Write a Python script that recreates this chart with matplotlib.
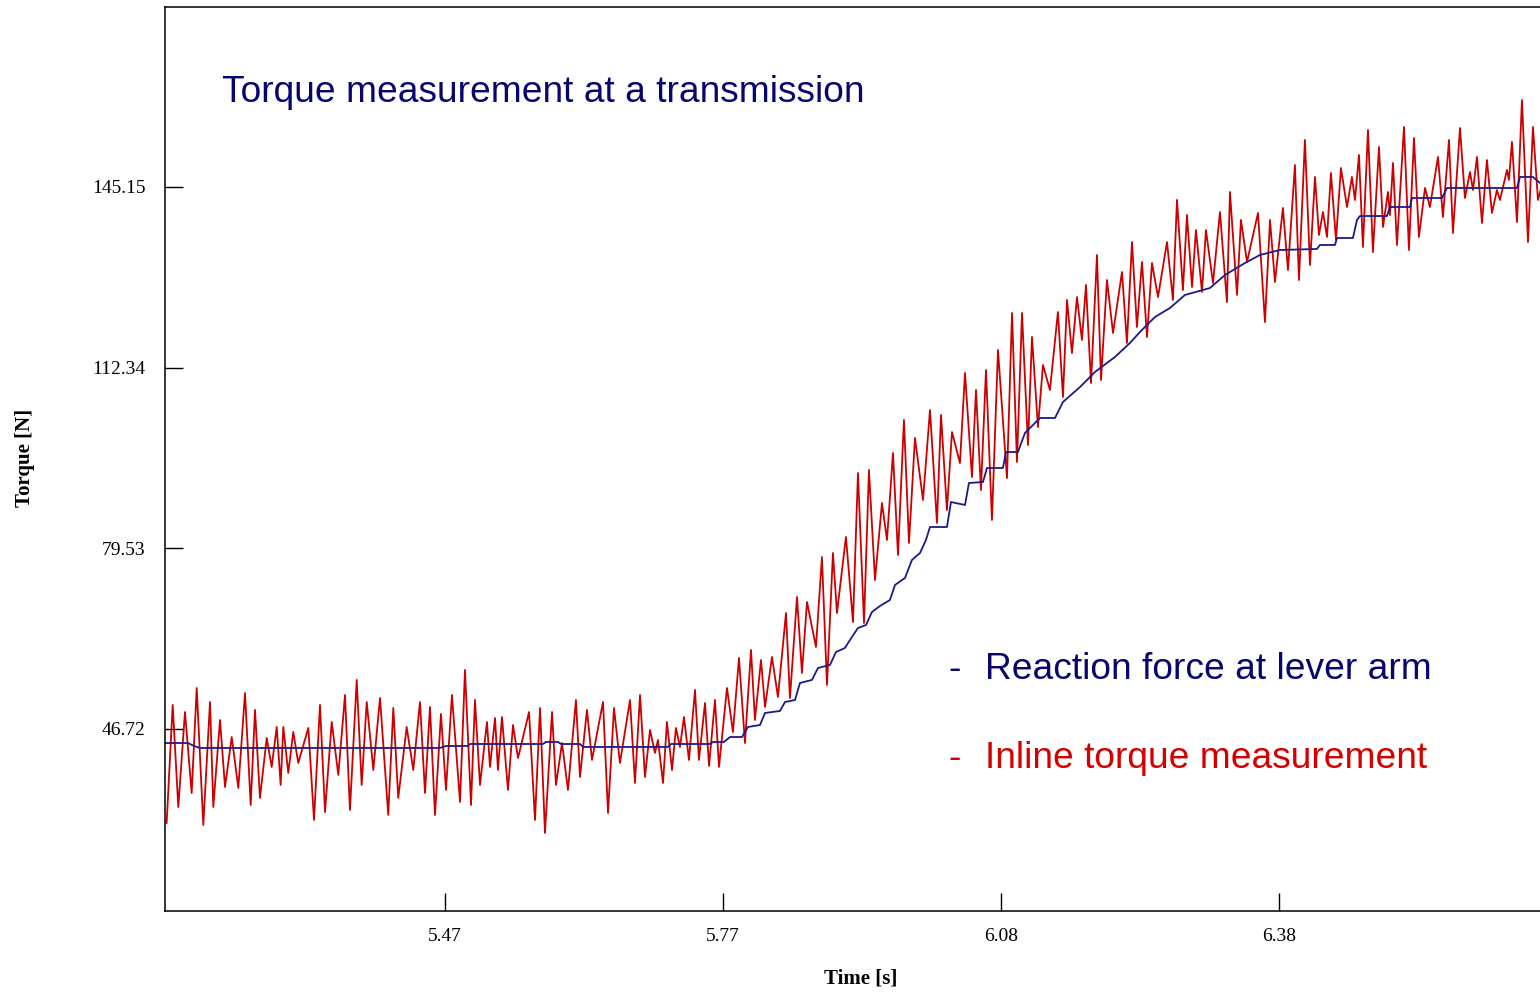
import matplotlib
matplotlib.use("Agg")
import matplotlib.pyplot as plt

red_time = [
    5.1663, 5.1729, 5.1790, 5.1863, 5.1936, 5.1991, 5.2063, 5.2136, 5.2172, 5.2245,
    5.2300, 5.2373, 5.2445, 5.2518, 5.2580, 5.2627, 5.2681, 5.2755, 5.2809, 5.2864,
    5.2907, 5.2936, 5.2990, 5.3045, 5.3099, 5.3209, 5.3271, 5.3336, 5.3391, 5.3464,
    5.3536, 5.3609, 5.3663, 5.3737, 5.3791, 5.3846, 5.3918, 5.3991, 5.4081, 5.4136,
    5.4190, 5.4282, 5.4354, 5.4427, 5.4482, 5.4536, 5.4591, 5.4656, 5.4711, 5.4776,
    5.4864, 5.4918, 5.4984, 5.5027, 5.5082, 5.5158, 5.5191, 5.5246, 5.5278, 5.5322,
    5.5387, 5.5442, 5.5497, 5.5617, 5.5682, 5.5737, 5.5791, 5.5868, 5.5911, 5.5977,
    5.6042, 5.6129, 5.6173, 5.6249, 5.6304, 5.6424, 5.6479, 5.6544, 5.6609, 5.6719,
    5.6773, 5.6828, 5.6882, 5.6937, 5.6991, 5.7024, 5.7079, 5.7122, 5.7177, 5.7220,
    5.7264, 5.7308, 5.7362, 5.7428, 5.7471, 5.7537, 5.7581, 5.7646, 5.7690, 5.7777,
    5.7842, 5.7908, 5.7973, 5.8039, 5.8082, 5.8148, 5.8192, 5.8268, 5.8333, 5.8421,
    5.8464, 5.8541, 5.8595, 5.8650, 5.8748, 5.8813, 5.8868, 5.8933, 5.8977, 5.9075,
    5.9152, 5.9206, 5.9272, 5.9326, 5.9392, 5.9468, 5.9523, 5.9588, 5.9643, 5.9708,
    5.9763, 5.9828, 5.9916, 5.9992, 6.0068, 6.0112, 6.0177, 6.0232, 6.0319, 6.0374,
    6.0450, 6.0494, 6.0548, 6.0603, 6.0668, 6.0734, 6.0832, 6.0887, 6.0941, 6.0996,
    6.1061, 6.1105, 6.1170, 6.1225, 6.1301, 6.1388, 6.1443, 6.1487, 6.1541, 6.1596,
    6.1650, 6.1694, 6.1749, 6.1814, 6.1858, 6.1923, 6.1989, 6.2087, 6.2141, 6.2196,
    6.2250, 6.2305, 6.2360, 6.2414, 6.2480, 6.2578, 6.2643, 6.2687, 6.2752, 6.2796,
    6.2851, 6.2894, 6.2960, 6.3003, 6.3080, 6.3156, 6.3232, 6.3265, 6.3342, 6.3385,
    6.3451, 6.3571, 6.3647, 6.3702, 6.3756, 6.3843, 6.3898, 6.3974, 6.4018, 6.4083,
    6.4138, 6.4193, 6.4236, 6.4280, 6.4324, 6.4367, 6.4422, 6.4476, 6.4542, 6.4596,
    6.4629, 6.4673, 6.4716, 6.4771, 6.4825, 6.4891, 6.4935, 6.4989, 6.5011, 6.5044,
    6.5087, 6.5164, 6.5218, 6.5273, 6.5327, 6.5393, 6.5447, 6.5535, 6.5589, 6.5655,
    6.5698, 6.5775, 6.5829, 6.5884, 6.5917, 6.5960, 6.6015, 6.6069, 6.6124, 6.6178,
    6.6211, 6.6288, 6.6309, 6.6342, 6.6397, 6.6451, 6.6517, 6.6571, 6.6626, 6.6669,
]
red_torque = [
    29.65, 51.08, 32.55, 49.80, 35.09, 54.16, 29.28, 51.62, 32.55, 48.35,
    36.18, 45.26, 36.00, 53.25, 32.91, 50.17, 34.19, 45.08, 39.82, 47.08,
    36.55, 47.08, 38.73, 46.17, 40.54, 46.90, 30.19, 51.08, 31.64, 47.99,
    38.36, 52.89, 32.01, 55.62, 36.55, 51.62, 39.27, 52.35, 31.10, 50.53,
    34.19, 47.08, 39.27, 51.62, 35.09, 50.71, 31.10, 49.44, 35.64, 52.89,
    33.46, 57.43, 32.91, 51.98, 36.55, 47.99, 39.82, 48.71, 39.27, 48.90,
    35.64, 47.44, 41.45, 49.80, 30.19, 50.53, 27.83, 49.80, 36.55, 44.17,
    35.64, 51.98, 38.00, 50.17, 41.09, 51.62, 31.46, 50.53, 40.54, 51.98,
    36.91, 52.89, 38.00, 46.54, 42.36, 44.72, 36.91, 47.99, 39.27, 46.90,
    43.45, 48.90, 41.09, 53.80, 41.09, 51.44, 40.00, 51.98, 39.82, 54.16,
    46.17, 59.61, 44.17, 61.06, 48.35, 59.25, 50.71, 59.79, 52.53, 67.78,
    52.35, 70.69, 56.89, 69.78, 61.61, 77.95, 54.71, 78.68, 67.78, 81.59,
    66.15, 93.21, 65.97, 93.75, 73.78, 87.76, 81.04, 96.84, 78.32, 102.83,
    80.50, 99.57, 88.31, 104.65, 84.13, 103.74, 86.49, 100.65, 95.02, 111.37,
    92.48, 108.28, 90.12, 111.91, 84.67, 115.55, 92.30, 122.27, 95.21, 122.27,
    98.29, 117.91, 101.56, 112.82, 108.28, 122.45, 107.01, 124.63, 115.00, 125.17,
    117.36, 127.35, 109.55, 132.80, 110.10, 128.26, 118.63, 129.71, 116.82, 135.16,
    119.72, 131.53, 117.91, 131.35, 125.17, 135.16, 124.63, 142.79, 126.44, 140.06,
    126.99, 137.34, 126.08, 137.34, 127.71, 140.61, 124.26, 144.24, 125.54, 139.16,
    131.53, 140.43, 120.63, 139.16, 127.90, 141.34, 130.08, 149.14, 128.26, 153.69,
    130.98, 146.97, 136.43, 140.61, 136.07, 147.69, 135.52, 148.60, 141.52, 146.97,
    142.79, 150.96, 134.25, 155.50, 133.34, 152.41, 137.89, 144.24, 140.06, 149.51,
    134.62, 156.05, 133.71, 154.05, 136.07, 144.97, 141.52, 150.60, 139.70, 153.69,
    136.80, 155.86, 143.15, 147.87, 144.60, 150.60, 138.61, 150.05, 140.43, 144.60,
    142.79, 148.24, 146.42, 153.32, 138.79, 160.95, 135.16, 156.05, 142.79, 145.51,
]

# reaction force at lever arm (blue)
blue_time = [
    5.1645, 5.1896, 5.1961, 5.2027, 5.4645, 5.4711, 5.4951, 5.4973, 5.5769, 5.5802,
    5.5933, 5.5966, 5.6173, 5.6206, 5.7133, 5.7166, 5.7591, 5.7624, 5.7744, 5.7810,
    5.7941, 5.8006, 5.8137, 5.8192, 5.8355, 5.8410, 5.8519, 5.8573, 5.8704, 5.8770,
    5.8901, 5.8966, 5.9064, 5.9119, 5.9206, 5.9294, 5.9359, 5.9446, 5.9555, 5.9610,
    5.9719, 5.9795, 5.9883, 5.9948, 5.9992, 6.0177, 6.0221, 6.0374, 6.0417, 6.0570,
    6.0614, 6.0788, 6.0821, 6.0952, 6.1028, 6.1192, 6.1356, 6.1443, 6.1629, 6.1792,
    6.2010, 6.2174, 6.2283, 6.2447, 6.2610, 6.2774, 6.3047, 6.3211, 6.3429, 6.3592,
    6.3811, 6.4214, 6.4247, 6.4411, 6.4433, 6.4607, 6.4651, 6.4684, 6.4978, 6.5011,
    6.5229, 6.5251, 6.5578, 6.5633, 6.6397, 6.6429, 6.6571, 6.6648,
]
blue_torque = [
    44.17, 44.17, 43.63, 43.27, 43.27, 43.63, 43.63, 43.99, 43.99, 44.36,
    44.36, 43.99, 43.99, 43.45, 43.45, 43.99, 43.99, 44.36, 44.36, 45.26,
    45.26, 47.08, 47.44, 49.62, 49.99, 51.62, 51.98, 55.07, 55.62, 57.80,
    58.34, 60.70, 61.43, 62.88, 65.06, 65.60, 67.97, 69.05, 70.14, 72.87,
    74.14, 77.41, 78.68, 81.04, 83.40, 83.40, 87.94, 87.40, 91.39, 91.57,
    94.12, 94.12, 97.02, 97.02, 100.47, 103.20, 103.20, 106.10, 108.83, 111.55,
    114.28, 116.82, 118.82, 121.54, 123.17, 125.54, 126.81, 129.17, 131.35, 132.80,
    133.71, 133.89, 134.62, 134.62, 135.89, 135.89, 139.16, 139.88, 139.88, 141.52,
    141.52, 143.15, 143.15, 144.97, 144.97, 146.97, 146.97, 145.88,
]

x_ticks = [5.47, 5.7733, 6.0767, 6.38]
x_tick_labels = ["5.47", "5.77", "6.08", "6.38"]
y_ticks = [46.72, 79.53, 112.34, 145.15]
y_tick_labels = ["46.72", "79.53", "112.34", "145.15"]

W, H = 1540, 993
fig = plt.figure(figsize=(W / 100, H / 100), dpi=100)
ax = fig.add_axes([165 / W, 82 / H, 1 - 165 / W, (911 - 7) / H])

ax.plot(red_time, red_torque, color="#cc0000", lw=1.3)
ax.plot(blue_time, blue_torque, color="#1a1a8a", lw=1.3)

ax.set_xlim(5.1645, 6.6648)
ax.set_ylim(13.66, 177.84)

serif = ["Liberation Serif", "DejaVu Serif"]
ax.set_xticks(x_ticks)
ax.set_xticklabels(x_tick_labels, family=serif, fontsize=14)
ax.set_yticks(y_ticks)
ax.set_yticklabels(y_tick_labels, family=serif, fontsize=14)
ax.tick_params(axis="both", direction="in", length=13, width=1.0, color="black")
ax.tick_params(axis="y", pad=14)
ax.tick_params(axis="x", pad=12)

ax.spines["right"].set_visible(False)
for s in ["left", "bottom", "top"]:
    ax.spines[s].set_linewidth(1.1)

fig.text(861 / W, 1 - 978 / H, "Time [s]", family=serif, fontweight="bold",
         fontsize=15, ha="center", va="center")
fig.text(25 / W, 1 - 458 / H, "Torque [N]", family=serif, fontweight="bold",
         fontsize=15, ha="center", va="center", rotation=90)

sans = ["Liberation Sans", "DejaVu Sans"]
navy = "#06066e"
red = "#d40000"
fig.text(222 / W, 1 - 102 / H, "Torque measurement at a transmission", family=sans,
         fontsize=26.7, color=navy, ha="left", va="baseline")
fig.text(948 / W, 1 - 679 / H, "-", family=sans, fontsize=26.7, color=navy, va="baseline")
fig.text(985 / W, 1 - 679 / H, "Reaction force at lever arm", family=sans,
         fontsize=26.7, color=navy, va="baseline")
fig.text(948 / W, 1 - 768 / H, "-", family=sans, fontsize=26.7, color=red, va="baseline")
fig.text(985 / W, 1 - 768 / H, "Inline torque measurement", family=sans,
         fontsize=26.7, color=red, va="baseline")

fig.savefig("out.png", dpi=100)
